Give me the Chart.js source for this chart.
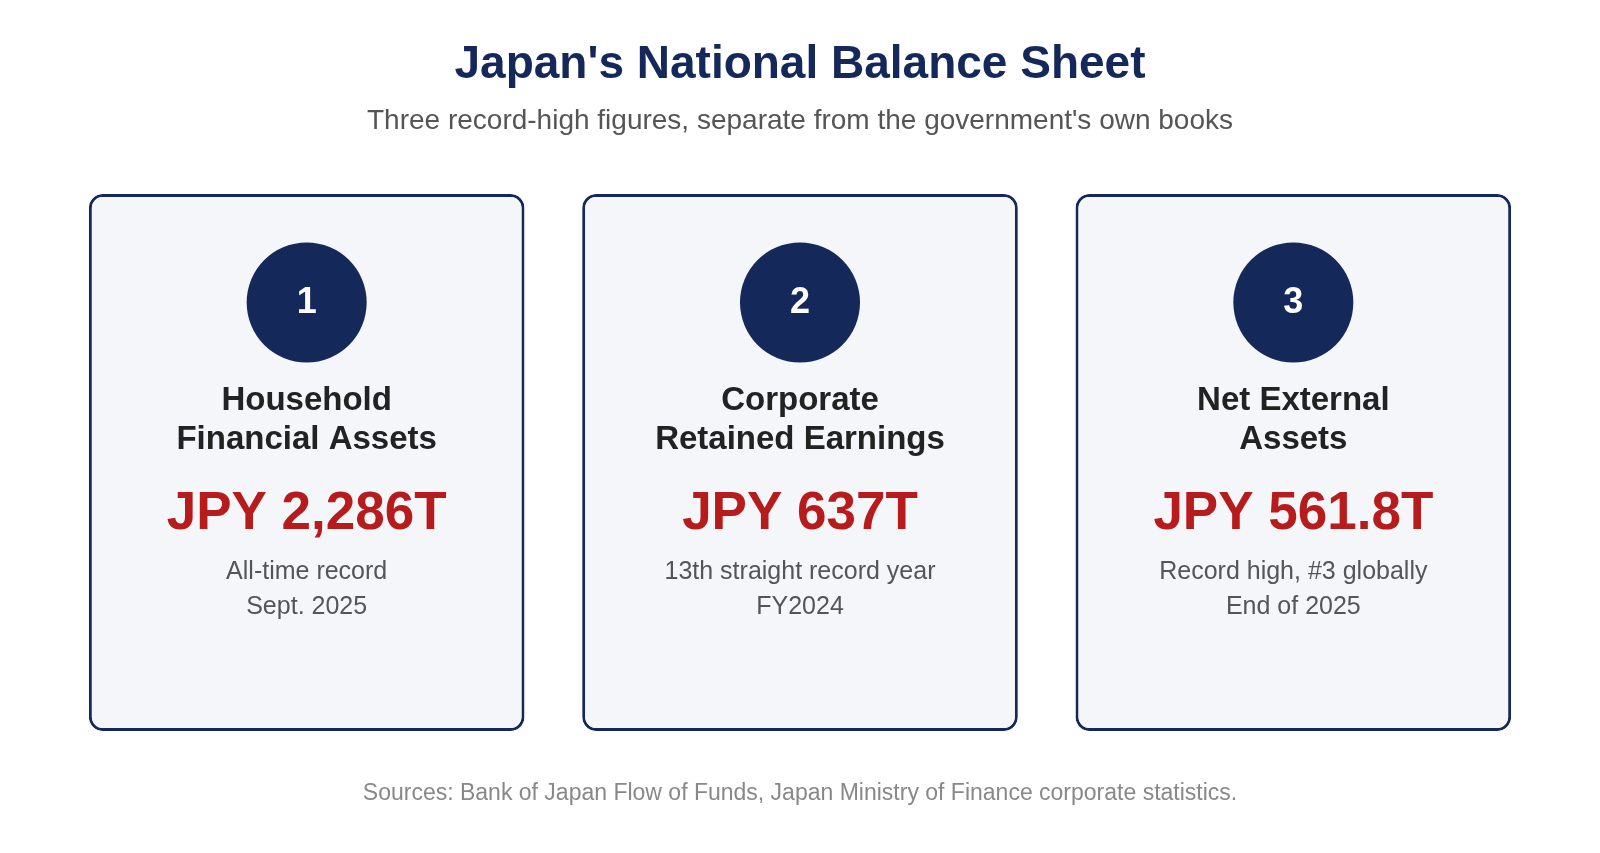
<!DOCTYPE html>
<html><head><meta charset="utf-8">
<script src="https://cdn.jsdelivr.net/npm/chart.js@4"></script>
<style>html,body{margin:0;padding:0;background:#fff}#w{width:1600px;height:853px}</style>
</head><body><div id="w"><canvas id="c"></canvas></div>
<script>
const categories = ["1", "2", "3"];
const cardTitles = [["Household", "Financial Assets"], ["Corporate", "Retained Earnings"], ["Net External", "Assets"]];
const values = ["JPY 2,286T", "JPY 637T", "JPY 561.8T"];
const notes = [["All-time record", "Sept. 2025"], ["13th straight record year", "FY2024"], ["Record high, #3 globally", "End of 2025"]];
const title = "Japan's National Balance Sheet";
const subtitle = "Three record-high figures, separate from the government's own books";
const source = "Sources: Bank of Japan Flow of Funds, Japan Ministry of Finance corporate statistics.";
const FONT = "'Liberation Sans', Arial, sans-serif";
const NAVY = "#14295a";

const textPlugin = {
  id: 'txt',
  afterDatasetsDraw(chart) {
    const ctx = chart.ctx;
    const ca = chart.chartArea;
    const cx = (chart.getDatasetMeta(1).data[1] || {x: 796}).x;
    ctx.save();
    ctx.textAlign = 'center';
    ctx.textBaseline = 'middle';
    ctx.fillStyle = NAVY;
    ctx.font = "bold 46px " + FONT;
    ctx.fillText(title, cx, 65);
    ctx.fillStyle = "#555";
    ctx.font = "28px " + FONT;
    ctx.fillText(subtitle, cx, 121);
    ctx.fillStyle = "#888";
    ctx.font = "23px " + FONT;
    ctx.fillText(source, cx, 794);
    const meta = chart.getDatasetMeta(1);
    meta.data.forEach((pt, i) => {
      const x = pt.x;
      ctx.fillStyle = "#fff";
      ctx.font = "bold 36px " + FONT;
      ctx.fillText(categories[i], x, pt.y + 1);
      ctx.fillStyle = "#222";
      ctx.font = "bold 33px " + FONT;
      ctx.fillText(cardTitles[i][0], x, ca.top + 207);
      ctx.fillText(cardTitles[i][1], x, ca.top + 246);
      ctx.fillStyle = "#b71c1c";
      ctx.font = "bold 53px " + FONT;
      ctx.fillText(values[i], x, ca.top + 320);
      ctx.fillStyle = "#555";
      ctx.font = "25px " + FONT;
      ctx.fillText(notes[i][0], x, ca.top + 378);
      ctx.fillText(notes[i][1], x, ca.top + 413);
    });
    ctx.restore();
  }
};

new Chart(document.getElementById('c'), {
  data: {
    labels: categories,
    datasets: [
      { type: 'bar', data: categories.map(() => [0, 1]), backgroundColor: '#f4f6fa', borderColor: NAVY,
        borderWidth: 3, borderRadius: 14, borderSkipped: false, categoryPercentage: 1, barPercentage: 0.883, order: 2 },
      { type: 'line', data: categories.map(() => 0.798), showLine: false, pointRadius: 60, pointHoverRadius: 60,
        pointBackgroundColor: NAVY, pointBorderWidth: 0, order: 1 }
    ]
  },
  options: {
    responsive: true, maintainAspectRatio: false, animation: false,
    layout: { padding: { left: 52, right: 60, top: 194, bottom: 122 } },
    plugins: { legend: { display: false }, tooltip: { enabled: false } },
    scales: {
      x: { display: false, offset: true },
      y: { display: false, min: 0, max: 1 }
    }
  },
  plugins: [textPlugin]
});
</script></body></html>
